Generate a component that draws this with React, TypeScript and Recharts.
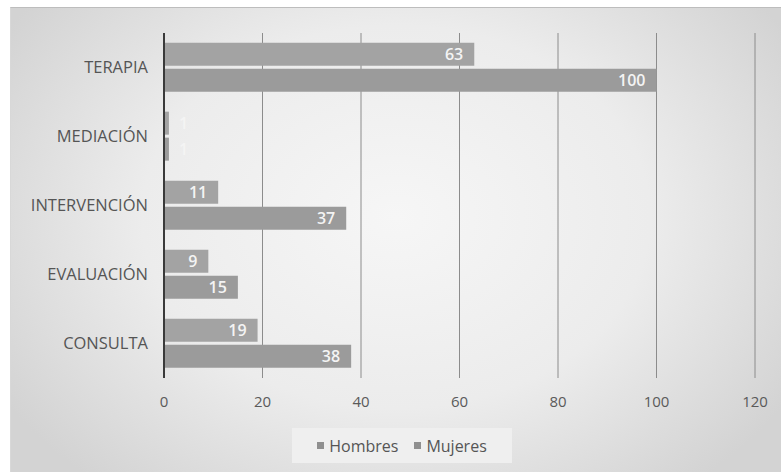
import React from 'react';
import { BarChart, Bar, XAxis, YAxis, CartesianGrid, LabelList } from 'recharts';

const categories = ['TERAPIA', 'MEDIACIÓN', 'INTERVENCIÓN', 'EVALUACIÓN', 'CONSULTA'];
const hombres = [63, 1, 11, 9, 19];
const mujeres = [100, 1, 37, 15, 38];
const xTicks = [0, 20, 40, 60, 80, 100, 120];

const SERIES = [
  { key: 'Hombres', color: '#a3a3a3' },
  { key: 'Mujeres', color: '#9b9b9b' },
];

const data = categories.map((name, i) => ({ name, Hombres: hombres[i], Mujeres: mujeres[i] }));

const FONT = '"Open Sans", "Liberation Sans", sans-serif';

// value inside the bar end; bars too short to hold it get it just past the end
const ValueLabel = (props: any) => {
  const { x, y, width, height, value } = props;
  const short = width < 20;
  return (
    <text
      x={short ? x + width + 10 : x + width - 11}
      y={y + height / 2}
      dy="0.35em"
      textAnchor={short ? 'start' : 'end'}
      fill="#f4f4f4"
      style={{ fontSize: 16, fontWeight: 600, fontFamily: FONT }}
    >
      {value}
    </text>
  );
};

// legend sits in its own box under the axis, so it doesn't eat plot height
const LegendBox = () => (
  <div
    style={{
      position: 'absolute',
      left: 292,
      top: 428,
      width: 220,
      height: 35,
      display: 'flex',
      justifyContent: 'center',
      gap: 16,
      alignItems: 'center',
      background: '#efefef',
      fontFamily: FONT,
      fontSize: 16,
      color: '#555',
    }}
  >
    {SERIES.map((s) => (
      <span key={s.key} style={{ display: 'inline-flex', alignItems: 'center', gap: 5 }}>
        <span style={{ width: 7, height: 7, background: '#8f8f8f', display: 'inline-block' }} />
        {s.key}
      </span>
    ))}
  </div>
);

export default function App() {
  return (
    <div style={{ position: 'absolute', left: 0, top: 0, width: 781, height: 472, background: '#fff' }}>
      <div
        style={{
          position: 'absolute',
          left: 10,
          top: 7,
          width: 771,
          height: 465,
          borderTop: '1px solid #bdbdbd',
          borderLeft: '1px solid #d8d8d8',
          boxSizing: 'border-box',
          background:
            'radial-gradient(ellipse 60% 75% at 50% 45%, #f6f6f6 0%, #ececec 55%, #d3d3d3 100%)',
        }}
      >
        <BarChart
          width={770}
          height={464}
          data={data}
          layout="vertical"
          margin={{ top: 25, right: 26, bottom: 0, left: 0 }}
          barCategoryGap="14%"
          barGap={3}
        >
          <CartesianGrid horizontal={false} stroke="#8c8c8c" strokeWidth={1} />
          <XAxis
            type="number"
            domain={[0, 120]}
            ticks={xTicks}
            axisLine={false}
            tickLine={false}
            tickSize={0}
            tickMargin={18}
            height={94}
            tick={{ fill: '#5a5a5a', fontSize: 15, fontFamily: FONT }}
          />
          <YAxis
            type="category"
            dataKey="name"
            width={153}
            axisLine={{ stroke: '#3a3a3a', strokeWidth: 2 }}
            tickLine={false}
            tickSize={0}
            tickMargin={16}
            tick={{ fill: '#555555', fontSize: 16.5, fontFamily: FONT }}
          />
          {SERIES.map((s) => (
            <Bar key={s.key} dataKey={s.key} fill={s.color} isAnimationActive={false}>
              <LabelList dataKey={s.key} content={<ValueLabel />} />
            </Bar>
          ))}
        </BarChart>
      </div>
      <LegendBox />
    </div>
  );
}
